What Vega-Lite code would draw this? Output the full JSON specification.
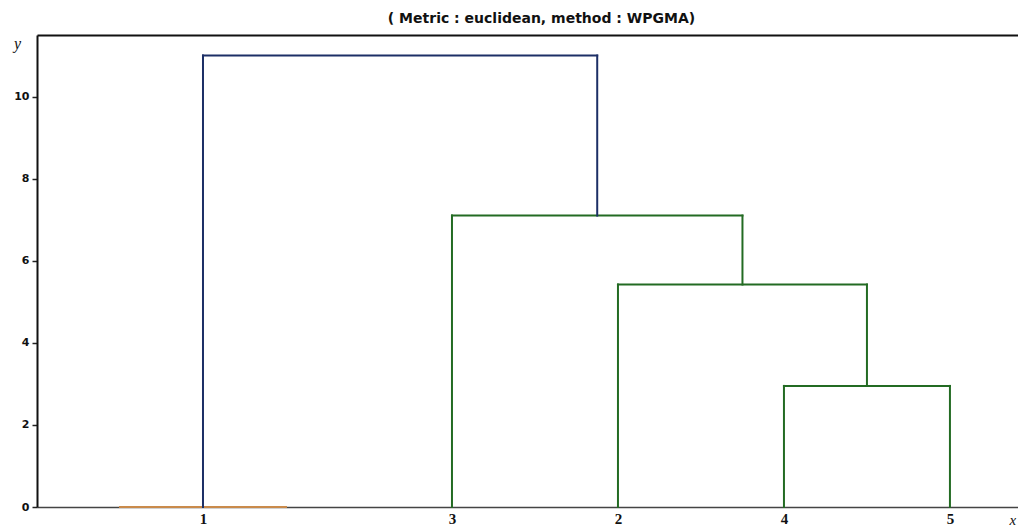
{
  "$schema": "https://vega.github.io/schema/vega-lite/v6.json",
  "width": 981,
  "height": 472,
  "autosize": {"type": "none"},
  "padding": {"left": 37, "top": 35, "right": 0, "bottom": 20},
  "background": "white",
  "config": {"view": {"stroke": null}},
  "title": {
    "text": "( Metric : euclidean, method : WPGMA)",
    "font": "DejaVu Sans",
    "fontSize": 14,
    "fontWeight": 600,
    "color": "#111111",
    "anchor": "middle",
    "offset": 9,
    "dx": 14
  },
  "data": {
    "values": [
      {"x": 5, "x2": 15, "y": 0, "y2": 0, "link": "orange"},
      {"x": 45, "x2": 45, "y": 0, "y2": 2.95, "link": "green"},
      {"x": 45, "x2": 55, "y": 2.95, "y2": 2.95, "link": "green"},
      {"x": 55, "x2": 55, "y": 0, "y2": 2.95, "link": "green"},
      {"x": 35, "x2": 35, "y": 0, "y2": 5.42, "link": "green"},
      {"x": 35, "x2": 50, "y": 5.42, "y2": 5.42, "link": "green"},
      {"x": 50, "x2": 50, "y": 2.95, "y2": 5.42, "link": "green"},
      {"x": 25, "x2": 25, "y": 0, "y2": 7.1, "link": "green"},
      {"x": 25, "x2": 42.5, "y": 7.1, "y2": 7.1, "link": "green"},
      {"x": 42.5, "x2": 42.5, "y": 5.42, "y2": 7.1, "link": "green"},
      {"x": 10, "x2": 10, "y": 0, "y2": 11.0, "link": "blue"},
      {"x": 10, "x2": 33.75, "y": 11.0, "y2": 11.0, "link": "blue"},
      {"x": 33.75, "x2": 33.75, "y": 7.1, "y2": 11.0, "link": "blue"}
    ]
  },
  "layer": [
    {
      "mark": {"type": "rule", "strokeWidth": 2, "strokeCap": "square"},
      "encoding": {
        "x": {
          "field": "x",
          "type": "quantitative",
          "scale": {"domain": [0, 59.1], "nice": false, "zero": false},
          "axis": {
            "orient": "bottom",
            "values": [10, 25, 35, 45, 55],
            "labelExpr": "datum.value == 10 ? '1' : datum.value == 25 ? '3' : datum.value == 35 ? '2' : datum.value == 45 ? '4' : '5'",
            "ticks": false,
            "tickSize": 0,
            "grid": false,
            "labelFont": "Liberation Serif",
            "labelFontWeight": "bold",
            "labelFontSize": 15,
            "labelColor": "#111111",
            "labelPadding": 4,
            "domainColor": "#444444",
            "domainWidth": 1.5,
            "title": "x",
            "titleFont": "Liberation Serif",
            "titleFontStyle": "italic",
            "titleFontWeight": "normal",
            "titleFontSize": 15,
            "titleColor": "#111111",
            "titleAnchor": "start",
            "titleX": 972,
            "titleY": 12,
            "titleAlign": "left",
            "titleBaseline": "middle"
          }
        },
        "x2": {"field": "x2"},
        "y": {
          "field": "y",
          "type": "quantitative",
          "scale": {"domain": [0, 11.5], "nice": false},
          "axis": {
            "values": [0, 2, 4, 6, 8, 10],
            "grid": false,
            "tickSize": 5,
            "tickColor": "#222222",
            "tickWidth": 1.5,
            "labelFont": "DejaVu Sans",
            "labelFontWeight": "bold",
            "labelFontSize": 11,
            "labelColor": "#111111",
            "labelPadding": 3,
            "domainColor": "#111111",
            "domainWidth": 2,
            "title": "y",
            "titleFont": "Liberation Serif",
            "titleFontStyle": "italic",
            "titleFontWeight": "normal",
            "titleFontSize": 16,
            "titleColor": "#111111",
            "titleAngle": 0,
            "titleX": -20,
            "titleY": 8,
            "titleAlign": "center",
            "titleBaseline": "middle"
          }
        },
        "y2": {"field": "y2"},
        "color": {
          "field": "link",
          "type": "nominal",
          "scale": {"domain": ["orange", "green", "blue"], "range": ["#c98a4b", "#236b23", "#1c2f66"]},
          "legend": null
        }
      }
    },
    {
      "mark": {"type": "rule", "opacity": 0},
      "encoding": {
        "x": {
          "field": "x",
          "type": "quantitative",
          "scale": {"domain": [0, 59.1], "nice": false, "zero": false},
          "axis": {
            "orient": "top",
            "ticks": false,
            "labels": false,
            "grid": false,
            "domainColor": "#111111",
            "domainWidth": 2,
            "title": null
          }
        }
      }
    }
  ],
  "resolve": {"axis": {"x": "independent"}}
}
